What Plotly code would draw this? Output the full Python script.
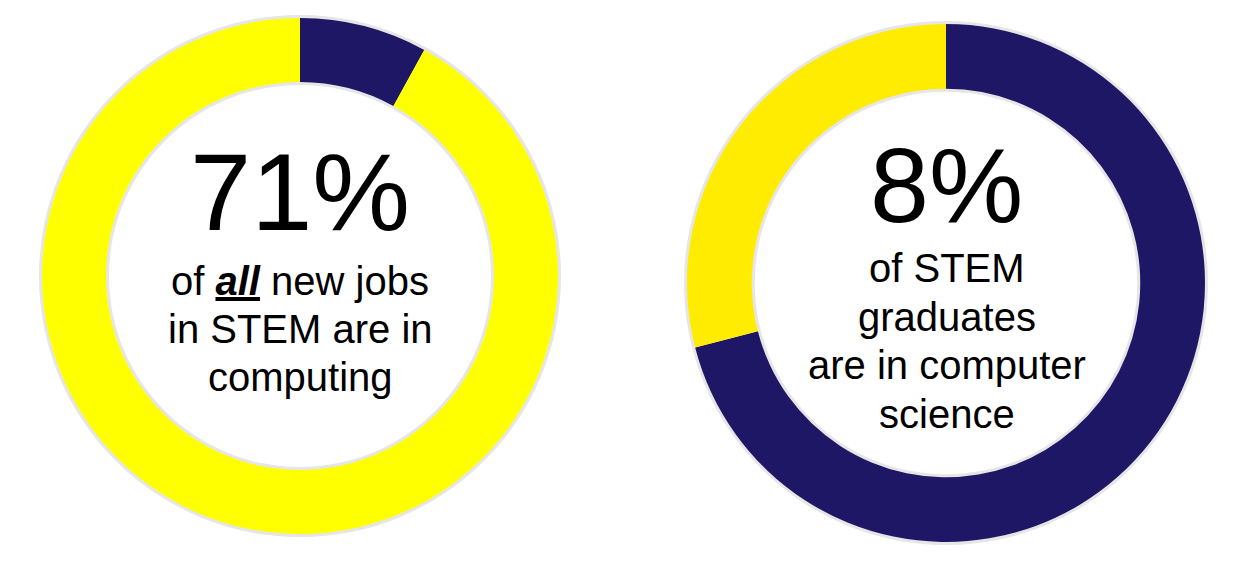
import plotly.graph_objects as go

W, H = 1244, 564
OFF = 8  # page body margin

# Data
left_labels = ["Computing share", "Other"]
left_values = [8, 92]
right_labels = ["Computer science", "Other STEM"]
right_values = [71, 29]

left_big = "71%"
left_lines = ["of <b><i><u>all</u></i></b> new jobs", "in STEM are in", "computing"]
right_big = "8%"
right_lines = ["of STEM", "graduates", "are in computer", "science"]

NAVY = "#1E1766"
YELLOW_L = "#FFFF00"
YELLOW_R = "#FFEC00"
FONT = "Arial, Liberation Sans, sans-serif"

def px_x(x):
    return (x - OFF) / W

def px_y(y):
    return 1 - (y - OFF) / H

# geometry (pixels in the reference picture)
L_CX, L_CY, L_R = 300, 276, 258
R_CX, R_CY, R_R = 946, 283, 259

fig = go.Figure()

fig.add_trace(go.Pie(
    labels=left_labels, values=left_values, hole=0.752, sort=False,
    direction="clockwise", rotation=0,
    marker=dict(colors=[NAVY, YELLOW_L], line=dict(width=0)),
    textinfo="none", hoverinfo="label+percent", showlegend=False,
    domain=dict(x=[px_x(L_CX - L_R), px_x(L_CX + L_R)],
                y=[px_y(L_CY + L_R), px_y(L_CY - L_R)]),
))
fig.add_trace(go.Pie(
    labels=right_labels, values=right_values, hole=0.75, sort=False,
    direction="clockwise", rotation=0,
    marker=dict(colors=[NAVY, YELLOW_R], line=dict(width=0)),
    textinfo="none", hoverinfo="label+percent", showlegend=False,
    domain=dict(x=[px_x(R_CX - R_R), px_x(R_CX + R_R)],
                y=[px_y(R_CY + R_R), px_y(R_CY - R_R)]),
))

# soft shadow rings behind the donuts
shapes = []
for cx, cy, r, hole in [(L_CX, L_CY, L_R, 0.752), (R_CX, R_CY, R_R, 0.75)]:
    ro = r + 3
    shapes.append(dict(type="circle", xref="paper", yref="paper", layer="below",
                       x0=px_x(cx - ro), x1=px_x(cx + ro), y0=px_y(cy + ro), y1=px_y(cy - ro),
                       fillcolor="#E6E6E6", line=dict(width=0)))
    ri = r * hole - 3
    shapes.append(dict(type="circle", xref="paper", yref="paper", layer="below",
                       x0=px_x(cx - ri), x1=px_x(cx + ri), y0=px_y(cy + ri), y1=px_y(cy - ri),
                       fillcolor="white", line=dict(width=0)))

annotations = []

def add_line(text, cx, baseline, size):
    center = baseline - 0.3465 * size
    annotations.append(dict(text=text, x=px_x(cx), y=px_y(center), xref="paper", yref="paper",
                            xanchor="center", yanchor="middle", showarrow=False,
                            font=dict(family=FONT, size=size, color="black")))

add_line(left_big, 300, 230, 110)
for txt, base in zip(left_lines, [295, 343, 391]):
    add_line(txt, 300, base, 40)

add_line(right_big, 947, 222, 106)
for txt, base in zip(right_lines, [282, 331, 379, 428]):
    add_line(txt, 947, base, 40)

fig.update_layout(
    width=W, height=H, margin=dict(l=0, r=0, t=0, b=0),
    paper_bgcolor="white", plot_bgcolor="white",
    shapes=shapes, annotations=annotations, showlegend=False,
)

fig.write_html("out.html")
